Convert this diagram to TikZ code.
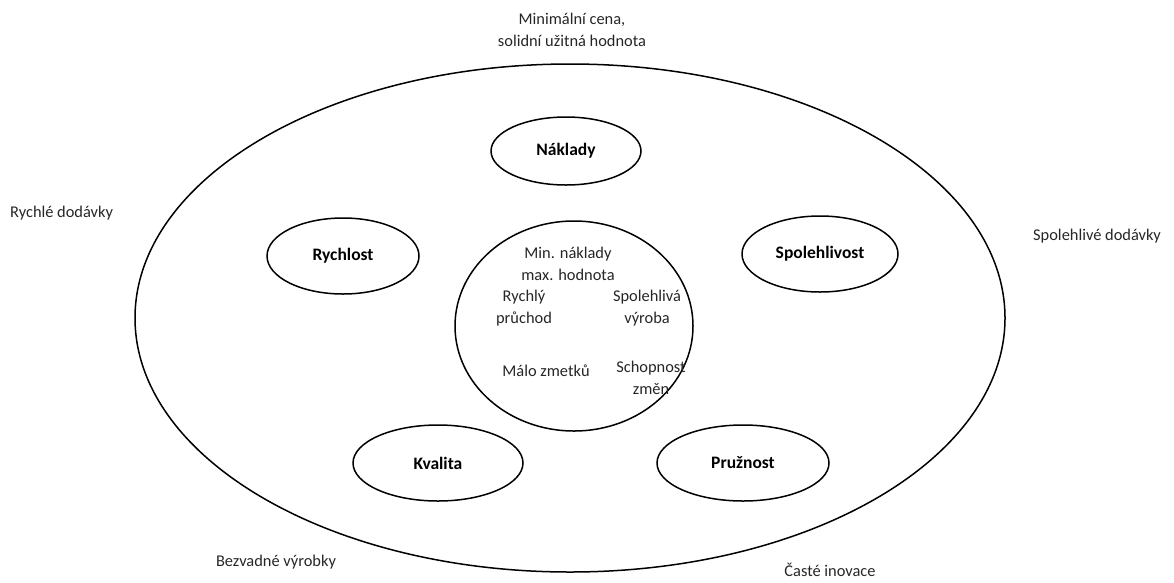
\documentclass[tikz,border=0pt]{standalone}
\usepackage{fontspec}
\setmainfont{Carlito}
\usetikzlibrary{shapes.geometric}
\tikzset{
  oval/.style={draw=black, line width=1.5pt, ellipse, inner sep=0pt},
  factor/.style={oval, font=\fontsize{17.5}{21}\selectfont\bfseries},
  note/.style={font=\fontsize{16.4}{22}\selectfont, align=center, inner sep=0pt, text=black!85},
}
\begin{document}
\begin{tikzpicture}[x=1pt, y=-1pt]
  \useasboundingbox (0,0) rectangle (1174,582);
  % outer boundary
  \node[oval, minimum width=870pt, minimum height=508pt] (outer) at (570,318) {};
  % inner core
  \node[oval, minimum width=238pt, minimum height=210pt] (core) at (574,326) {};
  % five performance objectives
  \node[factor, minimum width=150pt, minimum height=68pt] (naklady) at (566,151) {Náklady};
  \node[factor, minimum width=152pt, minimum height=76pt] (rychlost) at (343,256) {Rychlost};
  \node[factor, minimum width=156pt, minimum height=76pt] (spolehlivost) at (820,254) {Spolehlivost};
  \node[factor, minimum width=170pt, minimum height=76pt] (kvalita) at (438,463) {Kvalita};
  \node[factor, minimum width=172pt, minimum height=76pt] (pruznost) at (743,463) {Pružnost};
  % inner effects
  \node[note] (c1) at (568,264) {Min. náklady\\max. hodnota};
  \node[note] (c2) at (524,308) {Rychlý\\průchod};
  \node[note] (c3) at (647,308) {Spolehlivá\\výroba};
  \node[note] (c4) at (546,371) {Málo zmetků};
  \node[note] (c5) at (651,378) {Schopnost\\změn};
  % external effects
  \node[note] (e1) at (572,30) {Minimální cena,\\solidní užitná hodnota};
  \node[note, anchor=west] (e2) at (10,213) {Rychlé dodávky};
  \node[note, anchor=west] (e3) at (1033,236) {Spolehlivé dodávky};
  \node[note] (e4) at (276,562) {Bezvadné výrobky};
  \node[note] (e5) at (830,570) {Časté inovace};
\end{tikzpicture}
\end{document}
